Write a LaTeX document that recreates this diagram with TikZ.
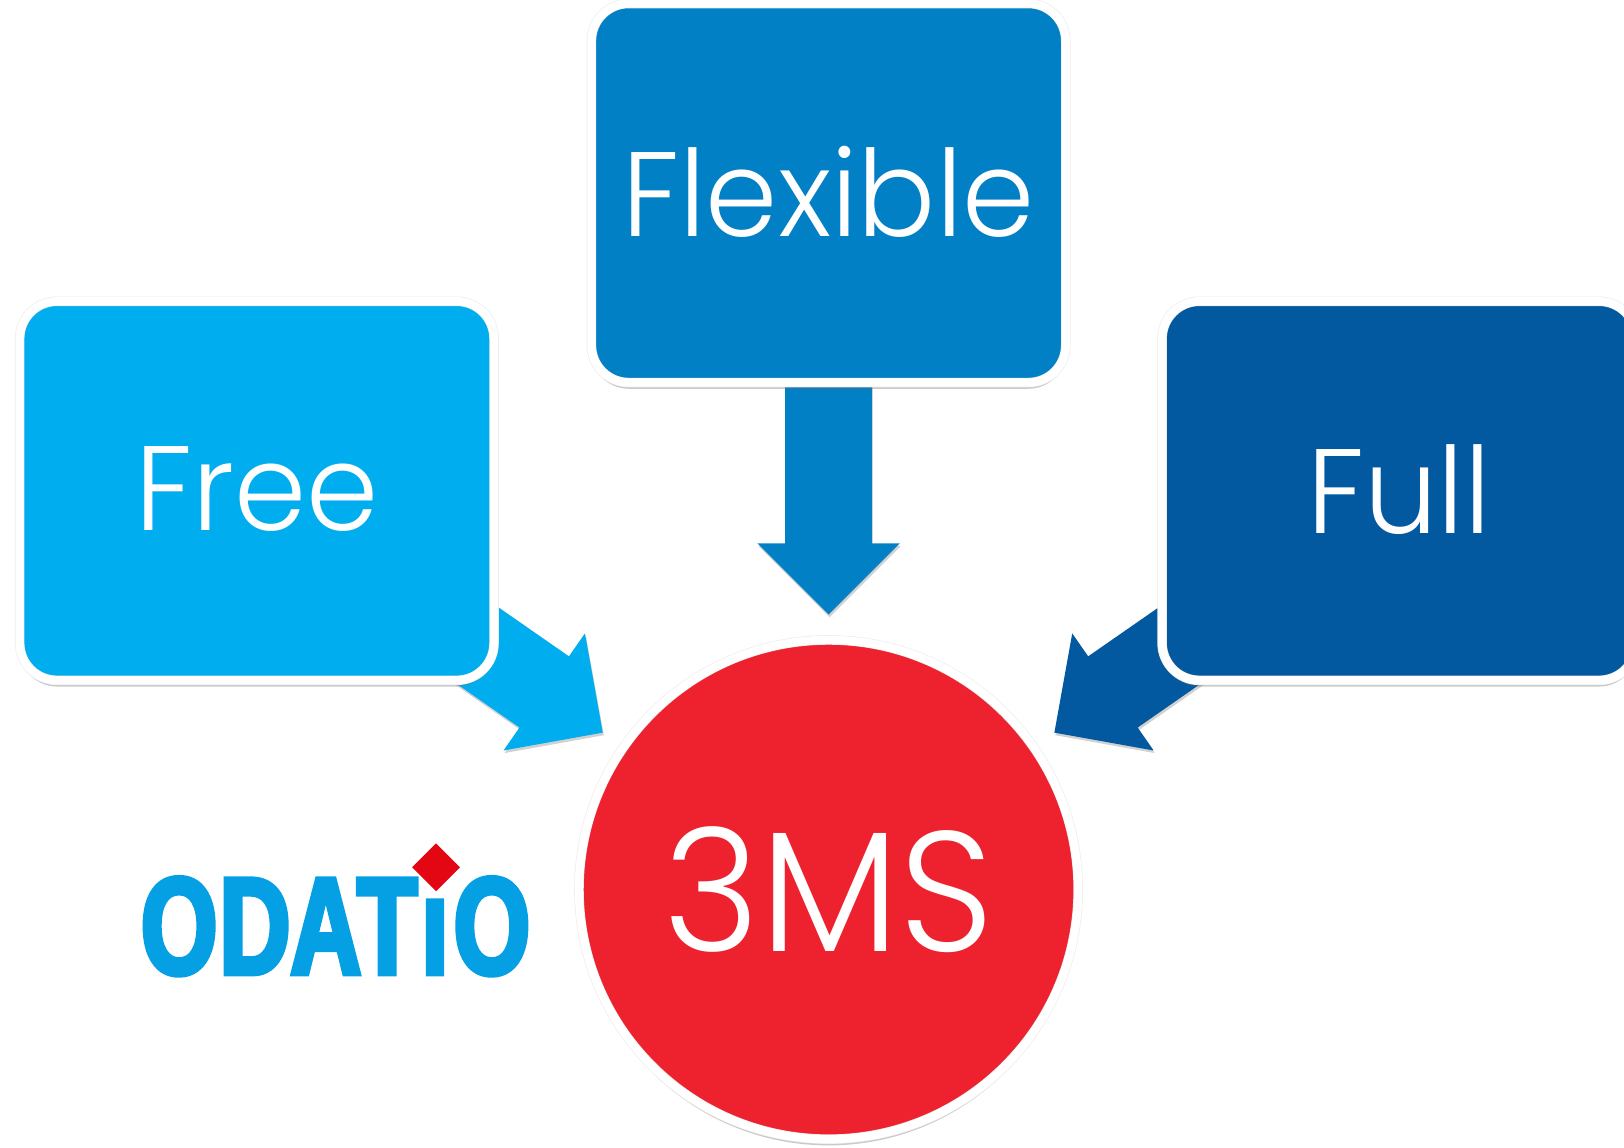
\documentclass[tikz,border=0pt]{standalone}
\usepackage{fontspec}
\usetikzlibrary{shapes.geometric,shapes.arrows,shadows}
\newfontfamily\gothicfont[FakeStretch=0.965]{Poppins Light}
\newfontfamily\logofont[FakeStretch=0.71,FakeBold=3.5]{Liberation Sans Bold}
\definecolor{freeblue}{HTML}{00AEEF}
\definecolor{flexblue}{HTML}{0280C6}
\definecolor{fullblue}{HTML}{02599F}
\definecolor{tmsred}{HTML}{ED222E}
\definecolor{logoblue}{HTML}{05A0E4}
\definecolor{logored}{HTML}{E30613}
\tikzset{softshadow/.style={drop shadow={shadow xshift=0.02cm,shadow yshift=-0.05cm,opacity=0.3,fill=black!60}},
rimshadow/.style={drop shadow={shadow xshift=0cm,shadow yshift=-0.12cm,opacity=0.35,fill=black!60}},
whiterim/.style={draw=black!8,line width=0.012cm,double=white,double distance=0.16cm},
planbox/.style={rounded corners=0.72cm,whiterim,minimum width=9.16cm,minimum height=7.32cm,text=white,text depth=0.08cm,font=\gothicfont\fontsize{66}{70}\selectfont,rimshadow},
planarrow/.style={single arrow,single arrow tip angle=90,single arrow head extend=0.54cm,inner xsep=0pt,inner ysep=0.83cm,minimum height=5.5cm,softshadow}}
\begin{document}
\begin{tikzpicture}
\useasboundingbox(0,0)rectangle(31.36,22.168);
\node[circle,whiterim,fill=tmsred,minimum size=9.64cm,text=white,font=\gothicfont\fontsize{94}{100}\selectfont,rimshadow](tms)at(16,4.99){3MS};
\foreach \name/\ang/\col in{freearrow/145.2/freeblue,flexarrow/90/flexblue,fullarrow/34.8/fullblue}
\node[planarrow,fill=\col,rotate=\ang+180,anchor=tip](\name)at([shift={(\ang:5.3)}]tms.center){};
\node[planbox,fill=freeblue](free)at(4.96,12.69){Free};
\node[planbox,fill=flexblue](flexible)at(16,18.44){Flexible};
\node[planbox,fill=fullblue](full)at(27.02,12.69){Full};
\node[text=logoblue,font=\logofont\fontsize{76}{80}\selectfont,inner sep=0pt](logo)at(6.48,4.28){O\kern0.04cm D\kern0cm A\kern-0.08cm T\kern0.08cm ı\kern0.1cm O};
\node[diamond,fill=logored,inner sep=0pt,minimum size=0.93cm,aspect=1](logodot)at(8.42,5.42){};
\end{tikzpicture}
\end{document}
